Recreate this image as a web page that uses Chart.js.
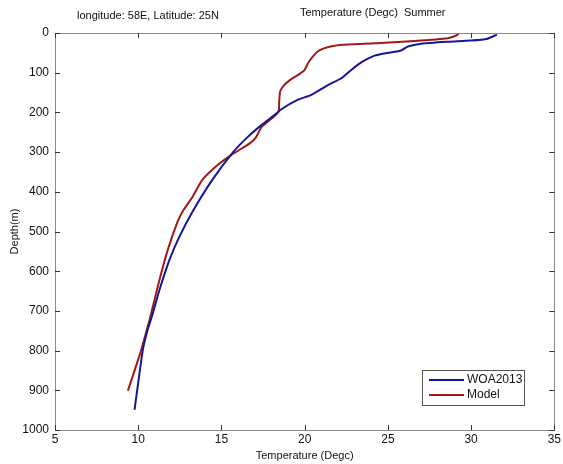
<!DOCTYPE html>
<html>
<head>
<meta charset="utf-8">
<script src="https://cdn.jsdelivr.net/npm/chart.js@4/dist/chart.umd.min.js"></script>
<style>
	html, body { margin: 0; padding: 0; background: #fff; }
	#wrap { width: 563px; height: 464px; position: relative; }
</style>
</head>
<body>
<div id="wrap"><canvas id="chart-canvas" width="563" height="464"></canvas></div>
<script>
'use strict';

var SERIES_NAMES = ['WOA2013', 'Model'];
var SERIES_COLORS = ['#16169a', '#a01818'];

// WOA2013 profile: depth (m) / temperature (Degc)
var woaDepth = [4, 15, 19, 22, 27, 34, 44, 50, 57, 74, 93, 114, 131, 156, 168, 192, 206, 232, 261, 300, 370, 450, 514, 572, 648, 707, 750, 800, 949];
var woaTemp  = [31.55, 30.93, 29.97, 28.6, 27.0, 26.2, 25.8, 25.0, 24.2, 23.4, 22.8, 22.2, 21.4, 20.4, 19.6, 18.6, 18.2, 17.4, 16.6, 15.7, 14.45, 13.26, 12.46, 11.87, 11.27, 10.87, 10.55, 10.27, 9.78];

// Model profile
var modelDepth = [0, 7, 13, 20, 25, 29, 32, 38, 46, 59, 76, 93, 103, 118, 133, 147, 173, 198, 215, 236, 265, 278, 307, 335, 370, 413, 450, 476, 547, 623, 724, 750, 800, 901];
var modelTemp  = [29.3, 29.08, 28.6, 26.6, 24.6, 22.6, 21.8, 21.2, 20.8, 20.5, 20.2, 20.0, 19.7, 19.13, 18.73, 18.53, 18.47, 18.43, 18.03, 17.43, 17.04, 16.7, 15.6, 14.7, 13.85, 13.26, 12.66, 12.36, 11.77, 11.27, 10.67, 10.5, 10.17, 9.38];

var X_MIN = 5, X_MAX = 35, X_STEP = 5;
var Y_MIN = 0, Y_MAX = 1000, Y_STEP = 100;

var FONT = '"Liberation Sans", Arial, sans-serif';

function toPoints(temps, depths) {
	return temps.map(function(t, i) { return { x: t, y: depths[i] }; });
}

function plainTick(value) {
	return String(value);
}

// matlab style frame: box + inward ticks on all four sides, header texts, legend
var matlabFrame = {
	id: 'matlabFrame',
	afterDraw: function(chart) {
		var ctx = chart.ctx;
		var a = chart.chartArea;
		var xs = chart.scales.x, ys = chart.scales.y;
		var TL = 5;

		ctx.save();
		ctx.strokeStyle = '#8a8a8a';
		ctx.lineWidth = 1;
		ctx.strokeRect(Math.round(a.left) + 0.5, Math.round(a.top) + 0.5,
			Math.round(a.right - a.left), Math.round(a.bottom - a.top));

		ctx.strokeStyle = '#333';
		ctx.beginPath();
		xs.ticks.forEach(function(t) {
			var px = Math.round(xs.getPixelForValue(t.value)) + 0.5;
			ctx.moveTo(px, a.bottom); ctx.lineTo(px, a.bottom - TL);
			ctx.moveTo(px, a.top); ctx.lineTo(px, a.top + TL);
		});
		ys.ticks.forEach(function(t) {
			var py = Math.round(ys.getPixelForValue(t.value)) + 0.5;
			ctx.moveTo(a.left, py); ctx.lineTo(a.left + TL, py);
			ctx.moveTo(a.right, py); ctx.lineTo(a.right - TL, py);
		});
		ctx.stroke();

		// header texts
		ctx.fillStyle = '#111';
		ctx.font = '11px ' + FONT;
		ctx.textBaseline = 'middle';
		ctx.textAlign = 'left';
		ctx.fillText('longitude: 58E, Latitude: 25N', 77, 16);
		ctx.fillText('Temperature (Degc)  Summer', 300, 13);

		// legend box
		var lx = 422, ly = 370, lw = 102, lh = 35;
		ctx.fillStyle = '#fff';
		ctx.fillRect(lx, ly, lw, lh);
		ctx.strokeStyle = '#555';
		ctx.lineWidth = 1;
		ctx.strokeRect(lx + 0.5, ly + 0.5, lw, lh);
		ctx.font = '12px ' + FONT;
		chart.data.datasets.forEach(function(ds, i) {
			var yy = ly + 10 + i * 15;
			ctx.strokeStyle = ds.borderColor;
			ctx.lineWidth = 2;
			ctx.beginPath();
			ctx.moveTo(lx + 7, yy); ctx.lineTo(lx + 42, yy);
			ctx.stroke();
			ctx.fillStyle = '#111';
			ctx.fillText(ds.label, lx + 45, yy);
		});
		ctx.restore();
	}
};

var ctx = document.getElementById('chart-canvas');

var myChart = new Chart(ctx, {
	type: 'scatter',
	data: {
		datasets: [{
			label: SERIES_NAMES[0],
			data: toPoints(woaTemp, woaDepth),
			borderColor: SERIES_COLORS[0],
			backgroundColor: SERIES_COLORS[0],
			showLine: true,
			borderWidth: 2,
			pointRadius: 0,
			tension: 0.2
		}, {
			label: SERIES_NAMES[1],
			data: toPoints(modelTemp, modelDepth),
			borderColor: SERIES_COLORS[1],
			backgroundColor: SERIES_COLORS[1],
			showLine: true,
			borderWidth: 2,
			pointRadius: 0,
			tension: 0.2
		}]
	},
	options: {
		responsive: false,
		animation: false,
		layout: { padding: { top: 33, right: 5, left: 0, bottom: 0 } },
		plugins: {
			legend: { display: false },
			tooltip: { enabled: false }
		},
		scales: {
			x: {
				type: 'linear',
				min: X_MIN, max: X_MAX,
				ticks: { stepSize: X_STEP, color: '#111', font: { family: FONT, size: 12 }, padding: 2, callback: plainTick },
				grid: { display: false, drawTicks: false },
				border: { display: false },
				title: { display: true, text: 'Temperature (Degc)', color: '#111', font: { family: FONT, size: 11 }, padding: { top: 2, bottom: 1 } },
				afterFit: function(scale) { scale.height = 34; }
			},
			y: {
				type: 'linear',
				reverse: true,
				min: Y_MIN, max: Y_MAX,
				ticks: { stepSize: Y_STEP, color: '#111', font: { family: FONT, size: 12 }, padding: 6, callback: plainTick },
				grid: { display: false, drawTicks: false },
				border: { display: false },
				title: { display: true, text: 'Depth(m)', color: '#111', font: { family: FONT, size: 11 }, padding: { top: 8, bottom: 2 } },
				afterFit: function(scale) { scale.width = 55; }
			}
		}
	},
	plugins: [matlabFrame]
});
</script>
</body>
</html>
